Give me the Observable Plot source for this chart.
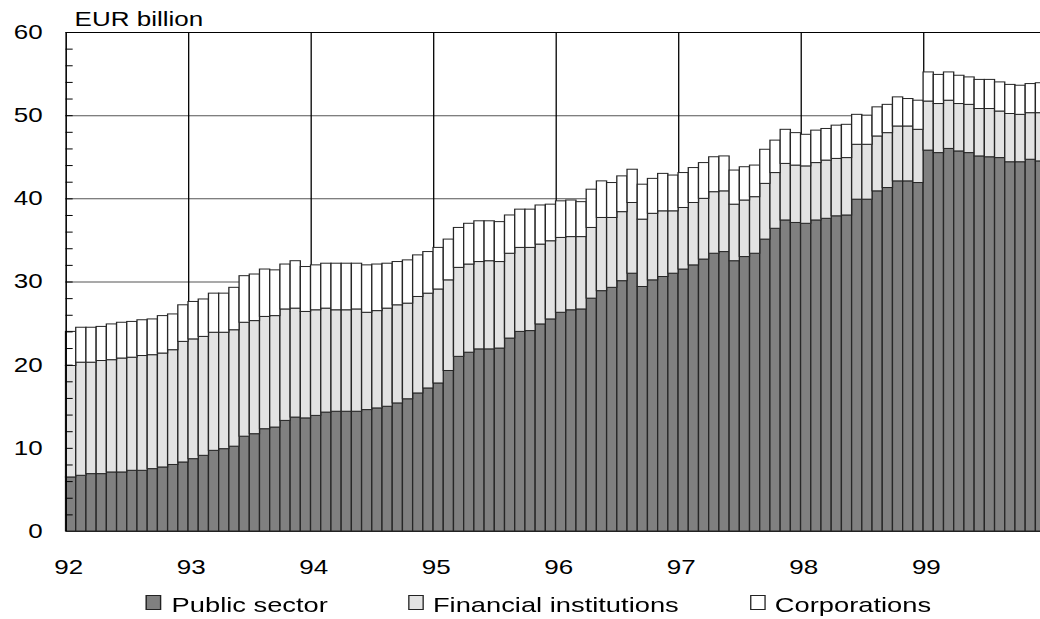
<!DOCTYPE html>
<html>
<head>
<meta charset="utf-8">
<script src="https://cdn.jsdelivr.net/npm/d3@7"></script>
<script src="https://cdn.jsdelivr.net/npm/@observablehq/plot@0.6"></script>
<style>
  html, body { margin: 0; padding: 0; background: #fff; overflow: hidden; }
  #wrap { width: 1040px; height: 619px; overflow: hidden; position: relative; background: #fff; }
  #chart { position: absolute; left: 0; top: 0; width: 800px; height: 619px;
           transform: scaleX(1.3); transform-origin: 0 0;
           font-family: "Liberation Sans", Arial, sans-serif; color: #000; }
  .lg-sw { position: absolute; top: 595px; width: 12px; height: 15px; box-sizing: border-box; border: 1px solid #222; }
  .lg-tx { position: absolute; top: 594px; font-size: 21px; line-height: 21px; white-space: nowrap; }
</style>
</head>
<body>
<div id="wrap"><div id="chart"></div></div>
<script>
// ---- data (EUR billion, monthly Jan 1992 – Dec 1999) ----
const yearLabels = ["92", "93", "94", "95", "96", "97", "98", "99"];
const seriesNames = ["Public sector", "Financial institutions", "Corporations"];
const seriesColors = ["#808080", "#e3e3e3", "#ffffff"];
const yTickValues = [0, 10, 20, 30, 40, 50, 60];

const publicSector = [
  6.5, 6.7, 6.9, 6.9, 7.1, 7.1, 7.3, 7.3, 7.5, 7.7, 8.0, 8.3,
  8.7, 9.1, 9.7, 9.9, 10.2, 11.4, 11.7, 12.3, 12.5, 13.3, 13.7, 13.6,
  13.9, 14.3, 14.4, 14.4, 14.4, 14.6, 14.8, 15.0, 15.4, 15.9, 16.6, 17.2,
  17.8, 19.3, 21.0, 21.5, 21.9, 21.9, 22.0, 23.2, 24.0, 24.1, 24.9, 25.5,
  26.3, 26.6, 26.7, 28.0, 28.9, 29.3, 30.1, 31.0, 29.4, 30.2, 30.6, 31.0,
  31.5, 32.0, 32.7, 33.4, 33.6, 32.5, 33.0, 33.4, 35.1, 36.4, 37.4, 37.1,
  37.0, 37.4, 37.6, 37.9, 38.0, 39.9, 39.9, 40.9, 41.3, 42.1, 42.1, 41.9,
  45.8, 45.5, 46.0, 45.7, 45.5, 45.1, 45.0, 44.9, 44.4, 44.4, 44.7, 44.5
];
const financialInst = [
  13.4, 13.6, 13.4, 13.6, 13.5, 13.7, 13.6, 13.8, 13.7, 13.7, 13.8, 14.5,
  14.4, 14.3, 14.2, 14.0, 14.0, 13.7, 13.6, 13.5, 13.4, 13.4, 13.1, 12.8,
  12.7, 12.5, 12.2, 12.2, 12.3, 11.7, 11.7, 11.8, 11.8, 11.5, 11.6, 11.4,
  11.3, 10.9, 10.7, 10.6, 10.5, 10.6, 10.4, 10.2, 10.1, 10.0, 9.6, 9.4,
  9.0, 8.8, 8.7, 8.5, 8.8, 8.4, 8.3, 8.5, 8.1, 8.0, 7.9, 7.5,
  7.4, 7.5, 7.3, 7.4, 7.3, 6.8, 6.8, 6.8, 6.7, 6.7, 6.8, 6.9,
  6.9, 6.9, 7.0, 6.9, 6.9, 6.6, 6.6, 6.6, 6.6, 6.6, 6.6, 6.4,
  5.9, 5.9, 5.8, 5.7, 5.8, 5.7, 5.8, 5.6, 5.8, 5.7, 5.6, 5.8
];
const corporations = [
  4.1, 4.2, 4.2, 4.1, 4.3, 4.3, 4.3, 4.3, 4.3, 4.5, 4.3, 4.4,
  4.5, 4.5, 4.7, 4.7, 5.1, 5.6, 5.6, 5.7, 5.5, 5.4, 5.7, 5.4,
  5.4, 5.4, 5.6, 5.6, 5.5, 5.7, 5.6, 5.4, 5.2, 5.2, 5.0, 5.0,
  5.0, 4.9, 4.8, 4.9, 4.9, 4.8, 4.8, 4.6, 4.6, 4.6, 4.7, 4.4,
  4.4, 4.4, 4.2, 4.6, 4.4, 4.2, 4.3, 4.0, 4.2, 4.2, 4.5, 4.3,
  4.2, 4.2, 4.3, 4.2, 4.2, 4.1, 4.0, 3.8, 4.1, 3.9, 4.1, 3.9,
  3.8, 3.9, 3.8, 4.0, 4.0, 3.6, 3.5, 3.5, 3.4, 3.5, 3.3, 3.5,
  3.5, 3.5, 3.4, 3.4, 3.3, 3.5, 3.5, 3.5, 3.5, 3.5, 3.5, 3.6
];

// ---- build stacked rows ----
const seriesValues = [publicSector, financialInst, corporations];
const rows = [];
for (let i = 0; i < publicSector.length; i++) {
  let base = 0;
  seriesValues.forEach((vals, s) => {
    rows.push({i, x1: i, x2: i + 1, y1: base, y2: base + vals[i], s});
    base += vals[i];
  });
}
const nMonths = publicSector.length;
const yearStarts = yearLabels.map((d, k) => k * 12);
const minorTicks = d3.range(2, 60, 2);

const font = "'Liberation Sans', Arial, sans-serif";

const plot = Plot.plot({
  width: 800,
  height: 590,
  marginLeft: 50.4,
  marginRight: 0,
  marginTop: 32,
  marginBottom: 59,
  style: {fontFamily: font, fontSize: "20px", color: "#000", background: "#fff"},
  x: {type: "linear", domain: [0, nMonths], range: [50.4, 804.3], axis: null},
  y: {domain: [0, 60], ticks: 6, tickSize: 0, tickPadding: 18, label: null, tickFormat: d => String(d)},
  marks: [
    Plot.ruleY(yTickValues.filter(d => d > 0 && d < 60), {stroke: "#555", strokeWidth: 1}),
    Plot.ruleX(yearStarts.filter(d => d > 0), {stroke: "#000", strokeWidth: 1}),
    ...seriesNames.map((name, s) =>
      Plot.rect(rows.filter(r => r.s === s), {
        x1: "x1", x2: "x2", y1: "y1", y2: "y2",
        fill: seriesColors[s], stroke: "#262626", strokeWidth: 1
      })
    ),
    Plot.ruleY(minorTicks, {x1: 0, x2: 0.7, stroke: "#000", strokeWidth: 1}),
    Plot.ruleX([0], {stroke: "#000", strokeWidth: 1.2}),
    Plot.ruleY([60], {stroke: "#000", strokeWidth: 1}),
    Plot.ruleY([0], {stroke: "#222", strokeWidth: 1}),
    Plot.text(yearLabels, {
      x: (d, k) => yearStarts[k], frameAnchor: "bottom", dy: 36, dx: 2,
      text: d => d, fontSize: 20, lineAnchor: "middle", textAnchor: "middle", fill: "#000"
    }),
    Plot.text(["EUR billion"], {
      frameAnchor: "top-left", dx: 6.5, dy: -13, text: d => d,
      fontSize: 20, textAnchor: "start", lineAnchor: "middle", fill: "#000"
    })
  ]
});

const chart = document.getElementById("chart");
chart.appendChild(plot);

// ---- legend ----
const legendSwatchX = [112.3, 313.8, 577];
const legendTextX = [132, 333, 596];
seriesNames.forEach((name, s) => {
  const sw = document.createElement("div");
  sw.className = "lg-sw";
  sw.style.left = legendSwatchX[s] + "px";
  sw.style.background = seriesColors[s];
  chart.appendChild(sw);
  const tx = document.createElement("div");
  tx.className = "lg-tx";
  tx.style.left = legendTextX[s] + "px";
  tx.textContent = name;
  chart.appendChild(tx);
});
</script>
</body>
</html>
